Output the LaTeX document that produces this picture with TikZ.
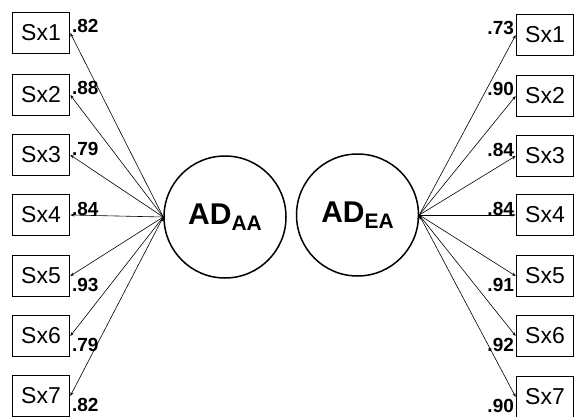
\documentclass[tikz,border=0pt]{standalone}
\usepackage{fontspec}
\setmainfont{Liberation Sans}
\usetikzlibrary{arrows.meta}
\tikzset{
  item/.style={draw,line width=1.6pt,minimum width=57pt,minimum height=41pt,inner sep=0pt,font=\fontsize{23}{25}\selectfont},
  factor/.style={circle,draw,line width=1.5pt,minimum size=122pt,inner sep=0pt},
  load/.style={font=\fontsize{19}{21}\selectfont\bfseries,inner sep=1.5pt,pos=1},
  path/.style={->,line width=0.6pt},
}
\newcommand*\adname[1]{{\fontsize{30}{32}\selectfont\bfseries AD\raisebox{-6pt}{\fontsize{21}{22}\selectfont #1}}}

\begin{document}
\begin{tikzpicture}[x=1pt,y=-1pt,>={Stealth[length=4pt,width=3pt]}]
			\useasboundingbox (0,0) rectangle (575,417);
			\node[factor](aa)at(225,217){\adname{AA}};
			\node[factor](ea)at(357.5,215){\adname{EA}};
			\node[item](l1)at(41,33){Sx1};
			\node[item](l2)at(41,95){Sx2};
			\node[item](l3)at(41,155){Sx3};
			\node[item](l4)at(41,215){Sx4};
			\node[item](l5)at(41,276){Sx5};
			\node[item](l6)at(41,336){Sx6};
			\node[item](l7)at(41,396){Sx7};
			\node[item](r1)at(545,35){Sx1};
			\node[item](r2)at(545,96){Sx2};
			\node[item](r3)at(545,156){Sx3};
			\node[item](r4)at(545,215){Sx4};
			\node[item](r5)at(545,276){Sx5};
			\node[item](r6)at(545,336){Sx6};
			\node[item](r7)at(545,397){Sx7};
			\draw[path](aa.west)edge node[load,anchor=base west]{.82}(l1.east);
			\draw[path](aa.west)edge node[load,anchor=base west]{.88}(l2.east);
			\draw[path](aa.west)edge node[load,anchor=base west]{.79}(l3.east);
			\draw[path](aa.west)edge node[load,anchor=base west]{.84}(l4.east);
			\draw[path](aa.west)edge node[load,anchor=north west]{.93}(l5.east);
			\draw[path](aa.west)edge node[load,anchor=north west]{.79}(l6.east);
			\draw[path](aa.west)edge node[load,anchor=north west]{.82}(l7.east);
			\draw[path](ea.east)edge node[load,anchor=base east]{.73}(r1.west);
			\draw[path](ea.east)edge node[load,anchor=base east]{.90}(r2.west);
			\draw[path](ea.east)edge node[load,anchor=base east]{.84}(r3.west);
			\draw[path](ea.east)edge node[load,anchor=base east]{.84}(r4.west);
			\draw[path](ea.east)edge node[load,anchor=north east]{.91}(r5.west);
			\draw[path](ea.east)edge node[load,anchor=north east]{.92}(r6.west);
			\draw[path](ea.east)edge node[load,anchor=north east]{.90}(r7.west);
		\end{tikzpicture}
\end{document}
